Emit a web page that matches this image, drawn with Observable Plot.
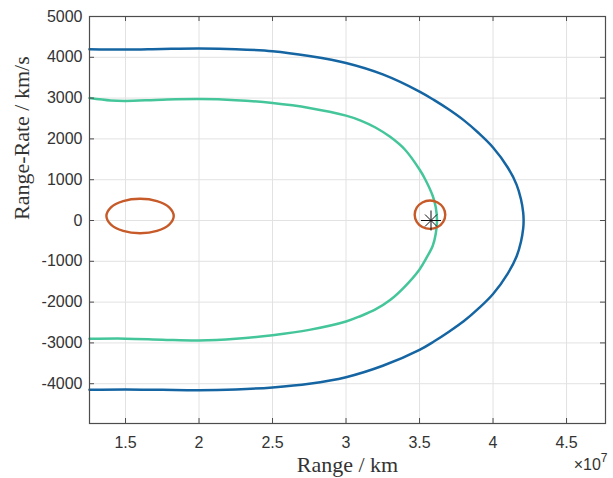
<!DOCTYPE html>
<html><head><meta charset="utf-8">
<script src="https://cdn.jsdelivr.net/npm/d3@7"></script>
<script src="https://cdn.jsdelivr.net/npm/@observablehq/plot@0.6"></script>
<style>body{margin:0;background:#fff}</style>
</head><body><div id="chart"></div>
<script>
// Outer (blue) curve: range [km], range-rate [km/s]
const blueRange = [1.255e7, 1.5e7, 1.75e7, 2.0e7, 2.25e7, 2.5e7, 2.75e7, 3.0e7, 3.25e7, 3.5e7, 3.6e7, 3.7e7, 3.8e7, 3.9e7, 4.0e7, 4.1e7, 4.16e7, 4.19e7, 4.205e7, 4.208e7,
                   4.205e7, 4.19e7, 4.16e7, 4.1e7, 4.0e7, 3.9e7, 3.8e7, 3.7e7, 3.6e7, 3.5e7, 3.25e7, 3.0e7, 2.75e7, 2.5e7, 2.25e7, 2.0e7, 1.75e7, 1.5e7, 1.255e7];
const blueRate  = [4200, 4190, 4205, 4215, 4200, 4150, 4030, 3860, 3580, 3160, 2950, 2720, 2460, 2150, 1790, 1300, 880, 520, 200, 0,
                   -200, -520, -880, -1300, -1800, -2160, -2470, -2725, -2960, -3170, -3560, -3840, -4000, -4090, -4140, -4160, -4150, -4140, -4150];
// Inner (green) curve
const greenRange = [1.255e7, 1.4e7, 1.5e7, 1.75e7, 2.0e7, 2.25e7, 2.5e7, 2.75e7, 3.0e7, 3.1e7, 3.2e7, 3.3e7, 3.4e7, 3.5e7, 3.54e7, 3.59e7, 3.61e7, 3.619e7,
                    3.61e7, 3.59e7, 3.55e7, 3.5e7, 3.4e7, 3.3e7, 3.2e7, 3.1e7, 3.0e7, 2.75e7, 2.5e7, 2.25e7, 2.0e7, 1.75e7, 1.5e7, 1.255e7];
const greenRate  = [3000, 2940, 2930, 2960, 2975, 2950, 2880, 2760, 2570, 2450, 2280, 2050, 1740, 1250, 1000, 600, 330, 0,
                    -330, -620, -900, -1200, -1620, -1950, -2180, -2340, -2475, -2680, -2810, -2900, -2940, -2920, -2895, -2900];
// Left (orange) closed contour
const leftRange = [1.828e7, 1.797e7, 1.714e7, 1.599e7, 1.484e7, 1.401e7, 1.370e7, 1.401e7, 1.484e7, 1.599e7, 1.714e7, 1.797e7];
const leftRate  = [110, 321, 475, 532, 475, 321, 110, -101, -255, -312, -255, -101];
// Right (orange) closed contour
const rightRange = [3.675e7, 3.661e7, 3.623e7, 3.571e7, 3.519e7, 3.481e7, 3.467e7, 3.481e7, 3.519e7, 3.571e7, 3.623e7, 3.661e7];
const rightRate  = [142, 316, 443, 489, 443, 316, 142, -32, -159, -205, -159, -32];
// Marked point
const starRange = [3.578e7];
const starRate = [0];

const xTicks = [1.5e7, 2e7, 2.5e7, 3e7, 3.5e7, 4e7, 4.5e7];
const yTicks = [-4000, -3000, -2000, -1000, 0, 1000, 2000, 3000, 4000, 5000];

const W = 613, H = 478, mL = 89, mR = 8, mT = 16, mB = 55;
const frameW = W - mL - mR, frameH = H - mT - mB;
const rows = (xs, ys) => xs.map((x, i) => ({x, y: ys[i]}));
const serif = "'Liberation Serif', 'Times New Roman', serif";
const axisCol = "#4d4d4d";

const chart = Plot.plot({
  width: W, height: H,
  marginLeft: mL, marginRight: mR, marginTop: mT, marginBottom: mB,
  style: {fontFamily: "'Liberation Sans', Arial, sans-serif", fontSize: "16px", color: "#333", background: "#fff"},
  x: {domain: [1.255e7, 4.765e7]},
  y: {domain: [-4975, 5000]},
  marks: [
    Plot.gridX(xTicks, {stroke: "#e2e2e2", strokeOpacity: 1}),
    Plot.gridY(yTicks, {stroke: "#e2e2e2", strokeOpacity: 1}),
    Plot.line(rows(blueRange, blueRate), {x: "x", y: "y", stroke: "#1565a3", strokeWidth: 2.5, curve: "catmull-rom"}),
    Plot.line(rows(greenRange, greenRate), {x: "x", y: "y", stroke: "#45c69a", strokeWidth: 2.5, curve: "catmull-rom"}),
    Plot.line(rows(leftRange, leftRate), {x: "x", y: "y", stroke: "#c65a28", strokeWidth: 2.4, curve: "catmull-rom-closed"}),
    Plot.line(rows(rightRange, rightRate), {x: "x", y: "y", stroke: "#c65a28", strokeWidth: 2.4, curve: "catmull-rom-closed"}),
    Plot.dot(rows(starRange, starRate), {x: "x", y: "y", symbol: "plus", r: 6.5, stroke: "#111", strokeWidth: 1}),
    Plot.dot(rows(starRange, starRate), {x: "x", y: "y", symbol: "times", r: 5.5, stroke: "#111", strokeWidth: 1}),
    Plot.frame({stroke: axisCol, strokeWidth: 1.2}),
    Plot.tickX(xTicks, {stroke: axisCol, insetTop: frameH - 5}),
    Plot.tickX(xTicks, {stroke: axisCol, insetBottom: frameH - 5}),
    Plot.tickY(yTicks, {stroke: axisCol, insetRight: frameW - 5}),
    Plot.tickY(yTicks, {stroke: axisCol, insetLeft: frameW - 5}),
    Plot.axisX(xTicks, {tickSize: 0, tickPadding: 13, label: null, tickFormat: d => String(d / 1e7), fontSize: 16}),
    Plot.axisY(yTicks, {tickSize: 0, tickPadding: 7, label: null, tickFormat: d => String(d), fontSize: 16}),
    Plot.text(["Range / km"], {frameAnchor: "bottom", dy: 48, fontFamily: serif, fontSize: 22, fill: "#333"}),
    Plot.text(["Range-Rate / km/s"], {frameAnchor: "left", dx: -68, rotate: -90, fontFamily: serif, fontSize: 22, fill: "#333"}),
    Plot.text(["×10⁷"], {frameAnchor: "bottom-right", dy: 46, dx: 2, textAnchor: "end", fontSize: 16, fill: "#333"})
  ]
});
chart.querySelectorAll("text").forEach(t => {
  if (t.textContent === "×10⁷") {
    t.textContent = "";
    const ns = "http://www.w3.org/2000/svg";
    const a = document.createElementNS(ns, "tspan");
    a.textContent = "×10";
    const b = document.createElementNS(ns, "tspan");
    b.textContent = "7";
    b.setAttribute("font-size", "12");
    b.setAttribute("dy", "-0.6em");
    t.appendChild(a); t.appendChild(b);
  }
});
document.getElementById("chart").appendChild(chart);
</script>
</body></html>
